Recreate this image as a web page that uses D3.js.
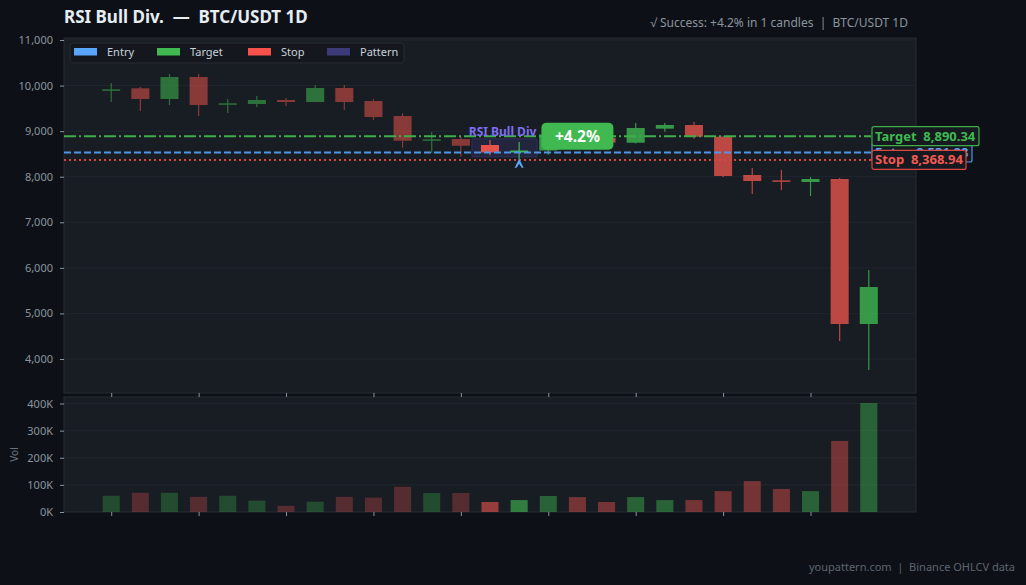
<!DOCTYPE html>
<html><head><meta charset="utf-8">
<script src="https://cdn.jsdelivr.net/npm/d3@7"></script>
<style>
html,body{margin:0;padding:0;background:#0d1117;}
svg{display:block;font-family:"Noto Sans","Open Sans",sans-serif;}
</style></head>
<body>
<svg id="c" width="1026" height="585"></svg>
<script>
// ---- data ----
const dates = d3.range(27).map(i => "D" + (i + 1));
const opens  = [9918, 9940, 9705, 10188, 9611, 9596, 9683, 9639, 9947, 9661, 9332, 8790, 8827, 8696, 8532, 8575, 8930, 8850, 8746, 9054, 9135, 8878, 8038, 7920, 7884, 7950, 4768];
const highs  = [10057, 9969, 10254, 10254, 9705, 9771, 9727, 10012, 10012, 9700, 9392, 8981, 8878, 8806, 8762, 9020, 8990, 8900, 9179, 9179, 9201, 8900, 8191, 8147, 7994, 7972, 5953];
const lows   = [9640, 9442, 9574, 9332, 9398, 9530, 9552, 9639, 9464, 9244, 8637, 8527, 8439, 8470, 8373, 8483, 8790, 8700, 8730, 8988, 8834, 7993, 7621, 7708, 7577, 4395, 3758];
const closes = [9918, 9705, 10188, 9574, 9611, 9683, 9639, 9947, 9639, 9310, 8790, 8821, 8680, 8531.88, 8575, 8930, 8850, 8750, 9069, 9135, 8878, 8016, 7906, 7900, 7950, 4768, 5580];
const volumes = [60000, 71000, 71000, 56000, 60000, 42000, 23000, 38000, 56000, 53000, 93000, 70000, 70000, 37000, 44000, 59000, 55000, 37000, 55000, 44000, 44000, 77000, 114000, 85000, 77000, 262000, 402000];
const patternIdx = [13, 14];           // pattern candles
const patternRange = [8435, 8830];     // pattern box low/high
const signalIdx = 14;                  // arrow candle
const resultIdx = 16;                  // +4.2% label candle
const entry = 8531.88, target = 8890.34, stop = 8368.94;
const priceTicks = [4000, 5000, 6000, 7000, 8000, 9000, 10000, 11000];
const volTicks = [0, 100000, 200000, 300000, 400000];
const legendItems = ["Entry", "Target", "Stop", "Pattern"];
const legendColors = ["#58a6ff", "#3fb950", "#f85149", "#3d3a7a"];
const titleText = "RSI Bull Div.  \u2014  BTC/USDT 1D";
const subText = "\u221A Success: +4.2% in 1 candles  |  BTC/USDT 1D";
const footText = "youpattern.com  |  Binance OHLCV data";

// ---- layout ----
const L = 64, R = 916, mainT = 38, mainB = 393, volT = 397, volB = 512;
const svg = d3.select("#c");
const GREEN = "#3fb950", RED = "#e5534b";

const x = d3.scaleBand().domain(d3.range(dates.length)).range([L, R]).paddingInner(0.38).paddingOuter(1.31);
const cx = i => x(i) + x.bandwidth() / 2;
const y = d3.scaleLinear().domain([3254, 11044]).range([mainB, mainT]);
const yv = d3.scaleLinear().domain([0, 424000]).range([volB, volT]);

function phase(i) { return i < patternIdx[0] ? 0 : (i <= patternIdx[1] ? 1 : 2); }
const candleOp = [0.55, 1, 0.8];
const volOp = [0.3, 0.62, 0.45];

// panels
svg.append("rect").attr("x", L).attr("y", mainT).attr("width", R - L).attr("height", mainB - mainT)
  .attr("fill", "#181c23").attr("stroke", "#262b33");
svg.append("rect").attr("x", L).attr("y", volT).attr("width", R - L).attr("height", volB - volT)
  .attr("fill", "#181c23").attr("stroke", "#262b33");

// grid
svg.append("g").selectAll("line").data(priceTicks).join("line")
  .attr("x1", L).attr("x2", R).attr("y1", d => y(d)).attr("y2", d => y(d))
  .attr("stroke", "#21252d").attr("stroke-width", 1);
svg.append("g").selectAll("line").data(volTicks.slice(1)).join("line")
  .attr("x1", L).attr("x2", R).attr("y1", d => yv(d)).attr("y2", d => yv(d))
  .attr("stroke", "#21252d").attr("stroke-width", 1);

// axes
function styleAxis(g) {
  g.select(".domain").remove();
  g.selectAll(".tick line").attr("stroke", "#8b949e");
  g.selectAll(".tick text").attr("fill", "#8b949e").style("font-size", "11px").style("font-family", "'Noto Sans',sans-serif");
}
svg.append("g").attr("transform", `translate(${L},0)`)
  .call(d3.axisLeft(y).tickValues(priceTicks).tickFormat(d3.format(",")).tickSize(4).tickPadding(7)).call(styleAxis);
svg.append("g").attr("transform", `translate(${L},0)`)
  .call(d3.axisLeft(yv).tickValues(volTicks).tickFormat(d => (d / 1000) + "K").tickSize(4).tickPadding(7)).call(styleAxis);
const xTickVals = d3.range(0, dates.length, 3);
const xAxis = d3.axisBottom(d3.scalePoint().domain(xTickVals).range([cx(0), cx(24)])).tickSize(4).tickFormat("");
svg.append("g").attr("transform", `translate(0,${mainB})`).call(xAxis).call(styleAxis);
svg.append("g").attr("transform", `translate(0,${volB})`).call(xAxis).call(styleAxis);

svg.append("text").attr("transform", `translate(18,${(volT + volB) / 2}) rotate(-90)`)
  .attr("text-anchor", "middle").attr("fill", "#6e7681").style("font-size", "10px").text("Vol");

// volume bars
svg.append("g").selectAll("rect").data(volumes).join("rect")
  .attr("x", (d, i) => x(i) + 0.5).attr("width", x.bandwidth() - 1)
  .attr("y", d => yv(d)).attr("height", d => volB - yv(d))
  .attr("fill", (d, i) => closes[i] >= opens[i] ? GREEN : RED)
  .attr("fill-opacity", (d, i) => volOp[phase(i)]);

// pattern box
svg.append("rect")
  .attr("x", cx(patternIdx[0]) - x.bandwidth()).attr("width", cx(patternIdx[1]) - cx(patternIdx[0]) + 2 * x.bandwidth())
  .attr("y", y(patternRange[1])).attr("height", y(patternRange[0]) - y(patternRange[1]))
  .attr("fill", "#3d3a7a").attr("fill-opacity", 0.3).attr("stroke", "#3d3a7a").attr("stroke-opacity", 0.6).attr("rx", 1);

// candles
const cg = svg.append("g").selectAll("g").data(dates).join("g")
  .attr("opacity", (d, i) => candleOp[phase(i)]);
cg.append("line").attr("x1", (d, i) => cx(i)).attr("x2", (d, i) => cx(i))
  .attr("y1", (d, i) => y(highs[i])).attr("y2", (d, i) => y(lows[i]))
  .attr("stroke", (d, i) => closes[i] >= opens[i] ? GREEN : RED).attr("stroke-width", 1.2);
cg.append("rect").attr("x", (d, i) => x(i)).attr("width", x.bandwidth())
  .attr("y", (d, i) => y(Math.max(opens[i], closes[i])))
  .attr("height", (d, i) => Math.max(1.5, Math.abs(y(opens[i]) - y(closes[i]))))
  .attr("fill", (d, i) => closes[i] >= opens[i] ? GREEN : RED);

// level lines
const lineEnd = 871;
const levels = [
  {name: "Entry", v: entry, c: "#4f95e6", dash: "7,3", lc: "#58a6ff", bw: 100},
  {name: "Target", v: target, c: "#3fae4a", dash: "12,3,2,3", lc: "#3fb950", bw: 107},
  {name: "Stop", v: stop, c: "#d9453f", dash: "2,3", lc: "#f25a52", bw: 94}
];
svg.append("g").selectAll("line").data(levels).join("line")
  .attr("x1", L).attr("x2", lineEnd).attr("y1", d => y(d.v)).attr("y2", d => y(d.v))
  .attr("stroke", d => d.c).attr("stroke-width", 2).attr("stroke-dasharray", d => d.dash);

// RSI label
svg.append("text").attr("x", (cx(patternIdx[0]) + cx(patternIdx[1])) / 2 - 2).attr("y", y(patternRange[1]) - 3)
  .attr("text-anchor", "middle").attr("fill", "#7c6ff0").style("font-size", "12px").style("font-weight", "bold")
  .text("RSI Bull Div");

// arrow
svg.append("path").attr("transform", `translate(${cx(signalIdx)},${y(lows[signalIdx]) + 4})`)
  .attr("d", "M0,-5 L4.5,4 L2.5,4 L0,0 L-2.5,4 L-4.5,4 Z").attr("fill", "#58a6ff");

// result label
const rg = svg.append("g").attr("transform", `translate(${cx(resultIdx)},${y(target)})`);
rg.append("rect").attr("x", -36).attr("y", -13.5).attr("width", 72).attr("height", 27).attr("rx", 5).attr("fill", "#3fb950");
rg.append("text").attr("y", 5.5).attr("text-anchor", "middle").attr("fill", "#ffffff")
  .style("font-size", "15.5px").style("font-weight", "bold").text("+4.2%");

// level labels
const fmt = d3.format(",.2f");
const lg = svg.append("g").selectAll("g").data(levels).join("g")
  .attr("transform", d => `translate(${lineEnd + 1},${y(d.v)})`);
lg.append("rect").attr("x", 0).attr("y", -9.5).attr("height", 19).attr("width", d => d.bw).attr("rx", 2)
  .attr("fill", "#161a20").attr("stroke", d => d.c).attr("stroke-width", 1.2);
lg.append("text").attr("x", 3).attr("y", 4.5).attr("fill", d => d.lc)
  .style("font-size", "13px").style("font-weight", "bold").style("white-space", "pre")
  .text(d => d.name + "  " + fmt(d.v));

// legend
const leg = svg.append("g");
leg.append("rect").attr("x", 70).attr("y", 43).attr("width", 334).attr("height", 20).attr("rx", 3)
  .attr("fill", "#14181e").attr("stroke", "#262b33");
const legX = [74, 157, 248, 327];
const li = leg.selectAll("g.li").data(legendItems).join("g").attr("class", "li")
  .attr("transform", (d, i) => `translate(${legX[i]},48)`);
li.append("rect").attr("width", 23).attr("height", 7.5).attr("fill", (d, i) => legendColors[i]);
li.append("text").attr("x", 33).attr("y", 8).attr("fill", "#c9d1d9").style("font-size", "11px").text(d => d);

// titles
svg.append("text").attr("x", 64).attr("y", 23).attr("fill", "#e6edf3")
  .style("font-size", "17px").style("font-weight", "bold").style("white-space", "pre").text(titleText);
svg.append("text").attr("x", 908).attr("y", 27).attr("text-anchor", "end").attr("fill", "#8b949e")
  .style("font-size", "12px").style("white-space", "pre").text(subText);
svg.append("text").attr("x", 1015).attr("y", 571).attr("text-anchor", "end").attr("fill", "#5d656e")
  .style("font-size", "11px").style("white-space", "pre").text(footText);
</script>
</body></html>
